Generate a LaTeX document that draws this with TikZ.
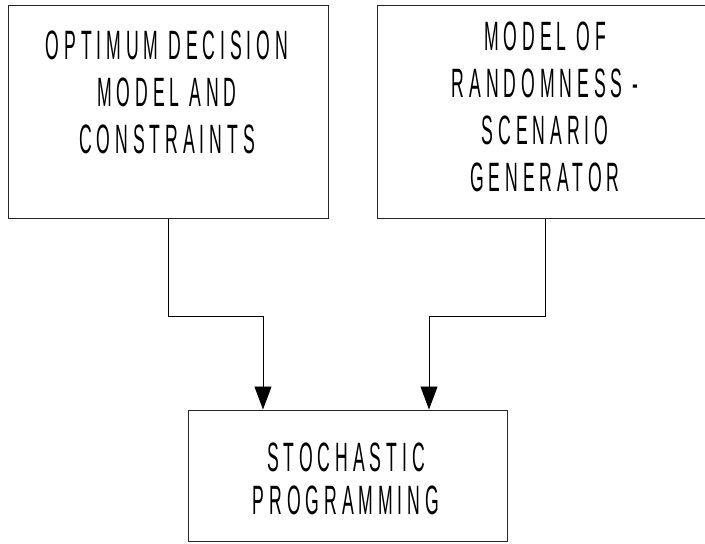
\documentclass[tikz,border=0pt]{standalone}
\usepackage{fontspec}
\newfontfamily\diagfont{Liberation Sans}[FakeStretch=0.43,LetterSpace=12]
\usetikzlibrary{arrows.meta}
\tikzset{
  boxnode/.style={draw=black!85, line width=1pt, inner sep=0pt, anchor=center},
  lbl/.style={align=center, inner sep=0pt, font=\diagfont\fontsize{41}{47}\selectfont},
  conn/.style={draw=black, line width=0.8pt, -{Triangle[width=17pt,length=23pt]}}
}
\begin{document}
\begin{tikzpicture}[x=1pt,y=-1pt]
\useasboundingbox (0,0) rectangle (705,544);
\clip (0,0) rectangle (705,544);
\node[boxnode, minimum width=320pt, minimum height=213pt] (lb) at (168,111.5) {};
\node[boxnode, minimum width=336pt, minimum height=213pt] (rb) at (545,111.5) {};
\node[boxnode, minimum width=319pt, minimum height=131pt] (sp) at (347.5,475.5) {};
\node[lbl] (lt) at (167,92) {OPTIMUM DECISION\\MODEL AND\\CONSTRAINTS};
\node[lbl] (rt) at (545,107) {MODEL OF\\RANDOMNESS -\\SCENARIO\\GENERATOR};
\node[lbl, font=\diagfont\fontsize{41}{43}\selectfont] (st) at (346,479) {STOCHASTIC\\PROGRAMMING};
\coordinate (j1) at (263,316);
\coordinate (j2) at (429,316);
\draw[conn] (lb.south) |- (j1) -- (j1 |- sp.north);
\draw[conn] (rb.south) |- (j2) -- (j2 |- sp.north);
\end{tikzpicture}
\end{document}
